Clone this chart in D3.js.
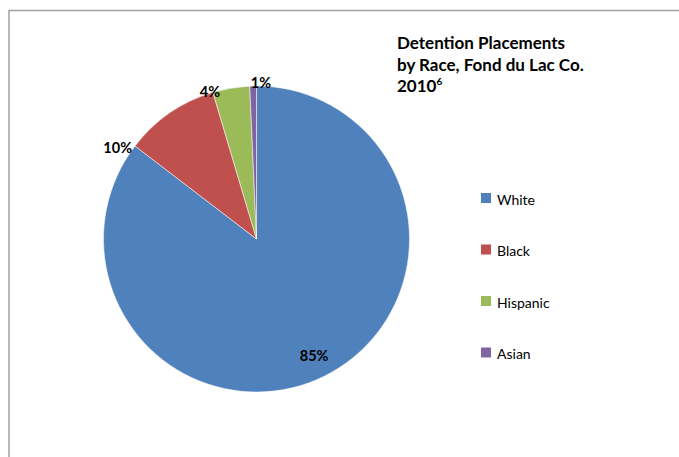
<!DOCTYPE html>
<html><head><meta charset="utf-8">
<script src="https://cdn.jsdelivr.net/npm/d3@7"></script>
<style>body{margin:0;background:#fff}svg{display:block}</style>
</head><body>
<svg id="c" width="679" height="457"></svg>
<script>
const categories = ["White", "Black", "Hispanic", "Asian"];
const values = [85.4, 10.0, 3.9, 0.7];
const labels = ["85%", "10%", "4%", "1%"];
const colors = ["#4F81BD", "#C0504D", "#9BBB59", "#8064A2"];
const titleLines = ["Detention Placements", "by Race, Fond du Lac Co.", "2010"];

const svg = d3.select("#c");
const font = "Lato, 'Open Sans', sans-serif";

// frame
svg.append("path").attr("d","M9,460 L9,10.5 L690,10.5").attr("fill","none")
  .attr("stroke","#a0a0a0").attr("stroke-width",1.5);

const cx = 256.5, cy = 239, r = 153;
const data = categories.map((c,i)=>({c, v: values[i], l: labels[i], col: colors[i]}));
const pie = d3.pie().value(d=>d.v).sort(null);
const arcs = pie(data);
const arc = d3.arc().innerRadius(0).outerRadius(r);
const g = svg.append("g").attr("transform",`translate(${cx},${cy})`);
g.selectAll("path").data(arcs).join("path").attr("d",arc)
  .attr("fill",d=>d.data.col).attr("stroke","#fff").attr("stroke-width",0.5);

// labels: big slice inside at centroid, small slices at the slice's leading edge
const inArc = d3.arc().innerRadius(r*0.85).outerRadius(r*0.85);
const anchors = ["middle","end","middle","start"];
const offs = [[0,0],[-3,2],[-3,0],[1,-3]];
g.selectAll("text").data(arcs).join("text")
  .attr("transform",(d,i)=>{
    let p;
    if (i===0) p = inArc.centroid(d);
    else p = [r*Math.sin(d.startAngle), -r*Math.cos(d.startAngle)];
    return `translate(${p[0]+offs[i][0]},${p[1]+offs[i][1]})`;
  })
  .attr("text-anchor",(d,i)=>anchors[i]).attr("dy","0.35em")
  .attr("font-family",font).attr("font-weight","bold").attr("font-size",14.5)
  .attr("fill","#000").text(d=>d.data.l);

// title
const t = svg.append("text").attr("x",397).attr("y",49)
  .attr("font-family",font).attr("font-weight","bold").attr("font-size",17).attr("fill","#000");
titleLines.forEach((s,i)=>{
  t.append("tspan").attr("x",397).attr("y",49+21.5*i).text(s);
});
t.append("tspan").attr("font-size",10).attr("dy",-7).text("6");

// legend
const lg = svg.append("g");
const ly = d3.scalePoint().domain(categories).range([198, 352.5]);
categories.forEach((c,i)=>{
  lg.append("rect").attr("x",481).attr("y",ly(c)-5).attr("width",10).attr("height",10).attr("fill",colors[i]);
  lg.append("text").attr("x",497).attr("y",ly(c)+2).attr("dy","0.35em")
    .attr("font-family",font).attr("font-size",14).attr("fill","#000").text(c);
});
</script>
</body></html>
